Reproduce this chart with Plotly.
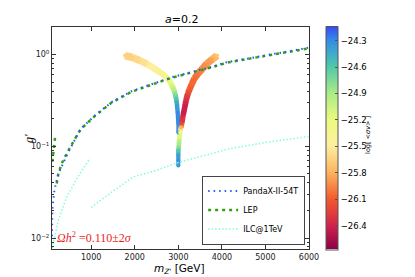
import plotly.graph_objects as go
from plotly.colors import sample_colorscale

# ---------------- data ----------------
# Relic-density band, left branch (m_Z' [GeV], g', log<sigma v>)
left_m = [1776, 1950, 2120, 2280, 2420, 2560, 2690, 2790, 2855, 2900, 2925, 2950, 2965, 2985, 3000, 3000]
left_g = [0.975, 0.93, 0.86, 0.79, 0.72, 0.65, 0.59, 0.52, 0.46, 0.41, 0.377, 0.33, 0.30, 0.235, 0.178, 0.142]
left_v = [-25.65, -25.65, -25.6, -25.55, -25.45, -25.4, -25.35, -25.25, -25.1, -24.95, -24.8, -24.6, -24.45, -24.3, -24.3, -24.35]

# right branch
right_m = [3890, 3780, 3660, 3550, 3450, 3370, 3310, 3260, 3220, 3180, 3150, 3110, 3080, 3060, 3040, 3020, 3010, 3000, 3000, 3000, 3000]
right_g = [0.975, 0.89, 0.80, 0.70, 0.62, 0.55, 0.48, 0.42, 0.377, 0.32, 0.27, 0.218, 0.178, 0.16, 0.142, 0.116, 0.098, 0.09, 0.08, 0.07, 0.062]
right_v = [-25.7, -25.85, -25.9, -25.95, -26.0, -26.05, -26.05, -26.1, -26.2, -26.35, -26.45, -26.4, -26.2, -25.8, -25.3, -25.0, -24.8, -24.6, -24.4, -24.35, -24.35]

# PandaX-II-54T
pandax_m = [100, 100, 107, 155, 246, 475, 705, 766, 1087, 1470, 1930, 2390, 2850, 3730, 4110, 5000, 6000]
pandax_g = [0.0105, 0.015, 0.0201, 0.0333, 0.0505, 0.0867, 0.137, 0.157, 0.217, 0.303, 0.40, 0.48, 0.567, 0.727, 0.825, 0.98, 1.19]

# LEP (main branch, then short low-mass branch)
lep_m = [208, 245, 322, 475, 705, 766, 1087, 1470, 1930, 2390, 2850, 3730, 4110, 5000, 6000, None, 107, 130, 150, 170]
lep_g = [0.0394, 0.05, 0.065, 0.09, 0.14, 0.155, 0.215, 0.30, 0.395, 0.475, 0.56, 0.72, 0.815, 0.97, 1.17, None, 0.068, 0.087, 0.105, 0.125]

# ILC@1TeV (two pieces)
ilc_m = [107, 245, 437, 743, 972, None, 1000, 1432, 1966, 2503, 3038, 3730, 4186, 5000, 5985]
ilc_g = [0.0078, 0.0157, 0.0281, 0.0509, 0.074, None, 0.0216, 0.0308, 0.0464, 0.055, 0.0675, 0.083, 0.0944, 0.11, 0.128]

x_ticks = [1000, 2000, 3000, 4000, 5000, 6000]
y_ticks = [0.01, 0.1, 1]
y_ticktext = ["10<sup>−2</sup>", "10<sup>−1</sup>", "10<sup>0</sup>"]
cb_ticks = [-24.3, -24.6, -24.9, -25.2, -25.5, -25.8, -26.1, -26.4]
cmin, cmax = -26.67, -24.14

# ---------------- styling ----------------
cscale = [[0.0, 'rgb(140,0,70)'], [0.107, 'rgb(210,35,75)'], [0.225, 'rgb(243,90,45)'],
          [0.344, 'rgb(252,180,95)'], [0.462, 'rgb(255,238,160)'], [0.581, 'rgb(235,250,125)'],
          [0.70, 'rgb(170,235,135)'], [0.818, 'rgb(80,200,170)'], [0.937, 'rgb(50,140,230)'],
          [1.0, 'rgb(60,70,245)']]


def col(v):
    f = (v - cmin) / (cmax - cmin)
    f = min(max(f, 0), 1)
    return sample_colorscale(cscale, [f])[0]


fig = go.Figure()


def add_branch(ms, gs, vs, w0, w1):
    n = len(ms)
    for i in range(n - 1):
        w = w0 + (w1 - w0) * i / (n - 2)
        fig.add_trace(go.Scatter(x=[ms[i], ms[i + 1]], y=[gs[i], gs[i + 1]], mode='lines',
                                 line=dict(color=col(0.5 * (vs[i] + vs[i + 1])), width=w),
                                 showlegend=False, hoverinfo='skip'))


add_branch(left_m, left_g, left_v, 7.5, 4)
add_branch(right_m, right_g, right_v, 7.5, 4)

# markers carrying the colour bar
fig.add_trace(go.Scatter(
    x=left_m + right_m, y=left_g + right_g, mode='markers', showlegend=False,
    marker=dict(color=left_v + right_v, colorscale=cscale, cmin=cmin, cmax=cmax, size=4,
                line=dict(width=0),
                colorbar=dict(x=1.066, xanchor='left', y=0.5, yanchor='middle', len=1.005,
                              lenmode='fraction', thickness=12, outlinewidth=1, xpad=0, ypad=0,
                              outlinecolor='#555', tickvals=cb_ticks, ticks='inside',
                              ticklen=3, tickcolor='#555',
                              tickfont=dict(family='DejaVu Sans', size=8.5, color='black'))),
))

fig.add_trace(go.Scatter(x=lep_m, y=lep_g, mode='lines', name='LEP', connectgaps=False,
                         legendrank=2,
                         line=dict(color='rgb(50,160,20)', width=2.5, dash='3px,4px')))
fig.add_trace(go.Scatter(x=pandax_m, y=pandax_g, mode='lines', name='PandaX-II-54T',
                         legendrank=1,
                         line=dict(color='rgb(40,90,245)', width=2, dash='1.5px,4px')))
fig.add_trace(go.Scatter(x=ilc_m, y=ilc_g, mode='lines', name='ILC@1TeV', connectgaps=False,
                         legendrank=3,
                         line=dict(color='rgb(127,255,212)', width=1.5, dash='1.5px,2px')))

axis_common = dict(showline=True, linecolor='#333', linewidth=1, mirror='allticks',
                   ticks='inside', tickcolor='#333', showgrid=False, zeroline=False,
                   automargin=False,
                   tickfont=dict(family='DejaVu Sans', size=8, color='#222'))

fig.update_xaxes(range=[100, 6000], tickvals=x_ticks, ticklen=4, **axis_common)
fig.update_yaxes(type='log', range=[-2.119, 0.301], tickvals=y_ticks, ticktext=y_ticktext,
                 ticklen=4,
                 minor=dict(tickvals=[k * 10 ** e for e in (-3, -2, -1, 0) for k in range(2, 10)],
                            ticks='inside', ticklen=2, tickcolor='#333'),
                 **axis_common)

# page body has an 8px margin: figure is offset accordingly
fig.update_layout(
    width=407, height=269, margin=dict(l=44, r=106, t=19, b=28, autoexpand=False),
    paper_bgcolor='white', plot_bgcolor='white',
    legend=dict(x=0.985, xanchor='right', y=0.02, yanchor='bottom', bgcolor='white',
                bordercolor='#444', borderwidth=1, tracegroupgap=0, itemwidth=30,
                traceorder='normal',
                font=dict(family='DejaVu Sans', size=8, color='black')),
    annotations=[
        dict(text="<i>a</i>=0.2", x=0.502, y=1.032, xref='paper', yref='paper',
             showarrow=False, yanchor='middle', font=dict(family='DejaVu Sans', size=11, color='black')),
        dict(text="<i>g'</i>", x=-0.125, y=0.5, xref='paper', yref='paper', textangle=-90,
             showarrow=False, font=dict(family='Liberation Serif', size=12, color='black')),
        dict(text="<i>m</i><sub><i>Z'</i></sub> [GeV]", x=0.498, y=-0.05, xref='paper', yref='paper',
             showarrow=False, yanchor='top', font=dict(family='DejaVu Sans', size=10.5, color='black')),
        dict(text="<i>Ωh</i><sup>2</sup> =0.110±2<i>σ</i>", x=0.012, y=0.054, xref='paper', yref='paper',
             xanchor='left', yanchor='middle', showarrow=False,
             font=dict(family='Liberation Serif', size=12, color='rgb(230,30,30)')),
        dict(text="log[ &lt;<i>σv</i>&gt; ]", x=1.253, y=0.514, xref='paper', yref='paper', textangle=-90,
             showarrow=False, font=dict(family='DejaVu Sans', size=6.5, color='black')),
    ],
)

fig.write_html("out.html")
